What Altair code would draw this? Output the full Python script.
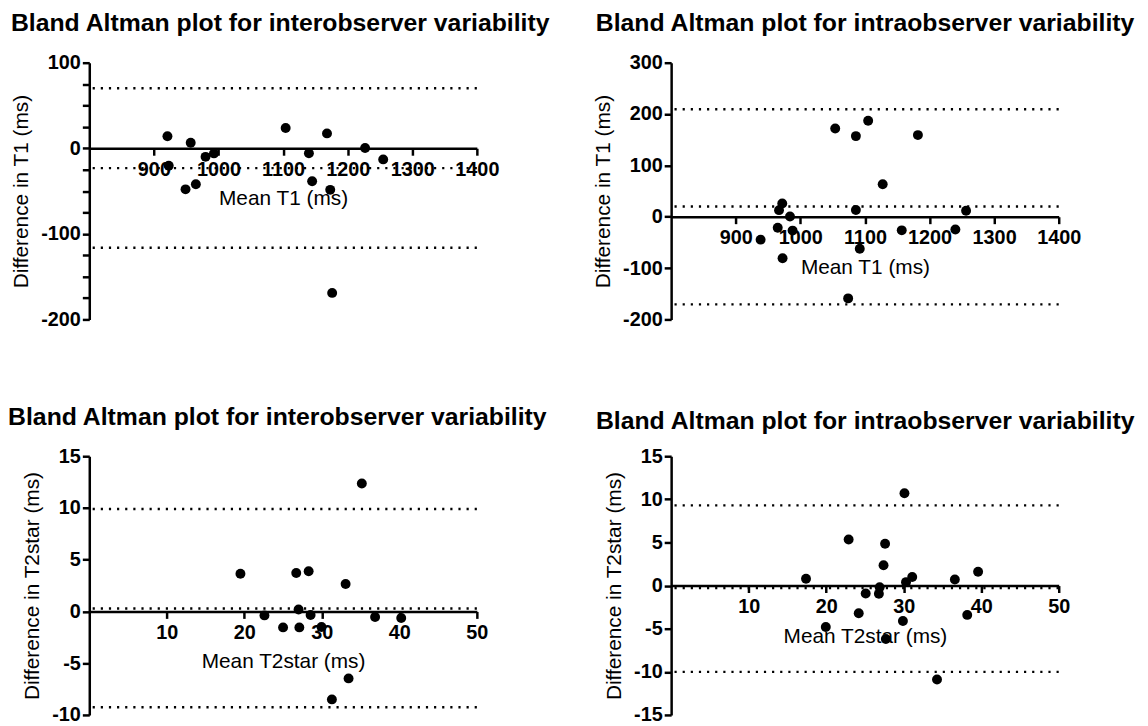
import altair as alt
import pandas as pd

FONT = "Liberation Sans"

# ---- Panel 1: interobserver, T1 ----
p1_mean = [921, 923, 957, 949, 965, 980, 993, 1104, 1140, 1145, 1168, 1173, 1176, 1227, 1255]
p1_diff = [14, -20.5, 6.5, -48, -42, -10, -6, 23.6, -5.8, -38.6, 17.4, -48.6, -169, 0.4, -13]
p1_limits = [70.2, -23.2, -116.3]

# ---- Panel 2: intraobserver, T1 ----
p2_mean = [938.5, 967, 972, 984, 965, 988, 972.5, 1054, 1086, 1105, 1086, 1092, 1074,
           1127.5, 1157, 1182, 1240, 1256.6]
p2_diff = [-44.6, 12.8, 26, 0.5, -21.5, -27, -80.8, 172, 157, 187, 13.2, -62.5, -159,
           63.3, -26.5, 159, -25, 11.6]
p2_limits = [209.4, 20.0, -170.7]

# ---- Panel 3: interobserver, T2star ----
p3_mean = [19.5, 22.6, 25.0, 26.7, 27.0, 27.1, 28.3, 28.55, 29.96, 31.3, 33.07, 33.45, 35.16, 36.87, 40.24]
p3_diff = [3.65, -0.38, -1.54, 3.72, 0.19, -1.54, 3.88, -0.35, -1.5, -8.5, 2.66, -6.47, 12.37, -0.54, -0.64]
p3_limits = [9.9, 0.29, -9.26]

# ---- Panel 4: intraobserver, T2star ----
p4_mean = [17.4, 19.95, 22.9, 24.2, 25.1, 26.9, 26.8, 27.4, 27.6, 27.7, 29.9, 30.1, 30.3,
           31.1, 34.3, 36.6, 38.2, 39.6]
p4_diff = [0.8, -4.8, 5.35, -3.2, -0.92, -0.2, -0.96, 2.35, 4.85, -6.2, -4.1, 10.7, 0.4,
           1.0, -10.9, 0.7, -3.4, 1.6]
p4_limits = [9.3, -0.3, -10.0]

TITLE_INTER = "Bland Altman plot for interobserver variability"
TITLE_INTRA = "Bland Altman plot for intraobserver variability"

W = 391


def panel(xs, ys, limits, xdom, ydom, xticks, yticks, ylabel_step, title, xtitle, ytitle,
          h, title_dx, title_offset):
    df = pd.DataFrame({"m": xs, "d": ys})
    ldf = pd.DataFrame({"d": limits})
    zero_off = -h * (0 - ydom[0]) / (ydom[1] - ydom[0])
    xscale = alt.Scale(domain=xdom, nice=False, zero=False)
    yscale = alt.Scale(domain=ydom, nice=False, zero=False)
    xaxis = alt.Axis(values=xticks, title=xtitle, offset=zero_off, labelFlush=False,
                     labelOverlap=False, labelPadding=4, titlePadding=9,
                     labelExpr="'' + datum.value")
    yaxis = alt.Axis(values=yticks, title=ytitle, labelFlush=False, labelOverlap=False,
                     labelExpr=f"datum.value % {ylabel_step} == 0 ? '' + datum.value : ''",
                     labelPadding=2, titlePadding=9)
    yenc = alt.Y("d:Q", scale=yscale, axis=yaxis)
    rules = alt.Chart(ldf).mark_rule(strokeDash=[2.2, 6], strokeWidth=2.4, color="black").encode(
        y=yenc
    )
    pts = alt.Chart(df).mark_circle(size=100, color="black", opacity=1).encode(
        x=alt.X("m:Q", scale=xscale, axis=xaxis),
        y=yenc,
    )
    return alt.layer(rules, pts).properties(
        width=W, height=h,
        title=alt.TitleParams(title, anchor="start", frame="bounds", fontSize=25,
                              fontWeight="bold", font=FONT, color="black",
                              baseline="alphabetic", offset=title_offset, dx=title_dx),
    )


c1 = panel(p1_mean, p1_diff, p1_limits, [800, 1400], [-200, 100],
           [900, 1000, 1100, 1200, 1300, 1400], list(range(-200, 101, 25)), 100,
           TITLE_INTER, "Mean T1 (ms)", "Difference in T1 (ms)", 259, 0, -3)
c2 = panel(p2_mean, p2_diff, p2_limits, [800, 1400], [-200, 300],
           [900, 1000, 1100, 1200, 1300, 1400], list(range(-200, 301, 100)), 100,
           TITLE_INTRA, "Mean T1 (ms)", "Difference in T1 (ms)", 259, 3, -3)
c3 = panel(p3_mean, p3_diff, p3_limits, [0, 50], [-10, 15],
           [10, 20, 30, 40, 50], list(range(-10, 16, 5)), 5,
           TITLE_INTER, "Mean T2star (ms)", "Difference in T2star (ms)", 261, -14, -3)
c4 = panel(p4_mean, p4_diff, p4_limits, [0, 50], [-15, 15],
           [10, 20, 30, 40, 50], list(range(-15, 16, 5)), 5,
           TITLE_INTRA, "Mean T2star (ms)", "Difference in T2star (ms)", 261, -8, -8)

chart = alt.concat(c1, c2, c3, c4, columns=2, spacing={"row": 138, "column": 196},
                   bounds="flush").properties(
    padding={"left": 0, "top": 0, "right": 4, "bottom": 0}
).configure(font=FONT).configure_view(strokeWidth=0).configure_axis(
    grid=False,
    domainColor="black", domainWidth=2.5,
    tickColor="black", tickWidth=2.5, tickSize=7,
    labelFont=FONT, labelFontSize=20, labelFontWeight="bold", labelColor="black",
    titleFont=FONT, titleFontSize=21, titleFontWeight="normal", titleColor="black",
)

chart.save("out.html", embed_options={"renderer": "svg", "actions": False})
